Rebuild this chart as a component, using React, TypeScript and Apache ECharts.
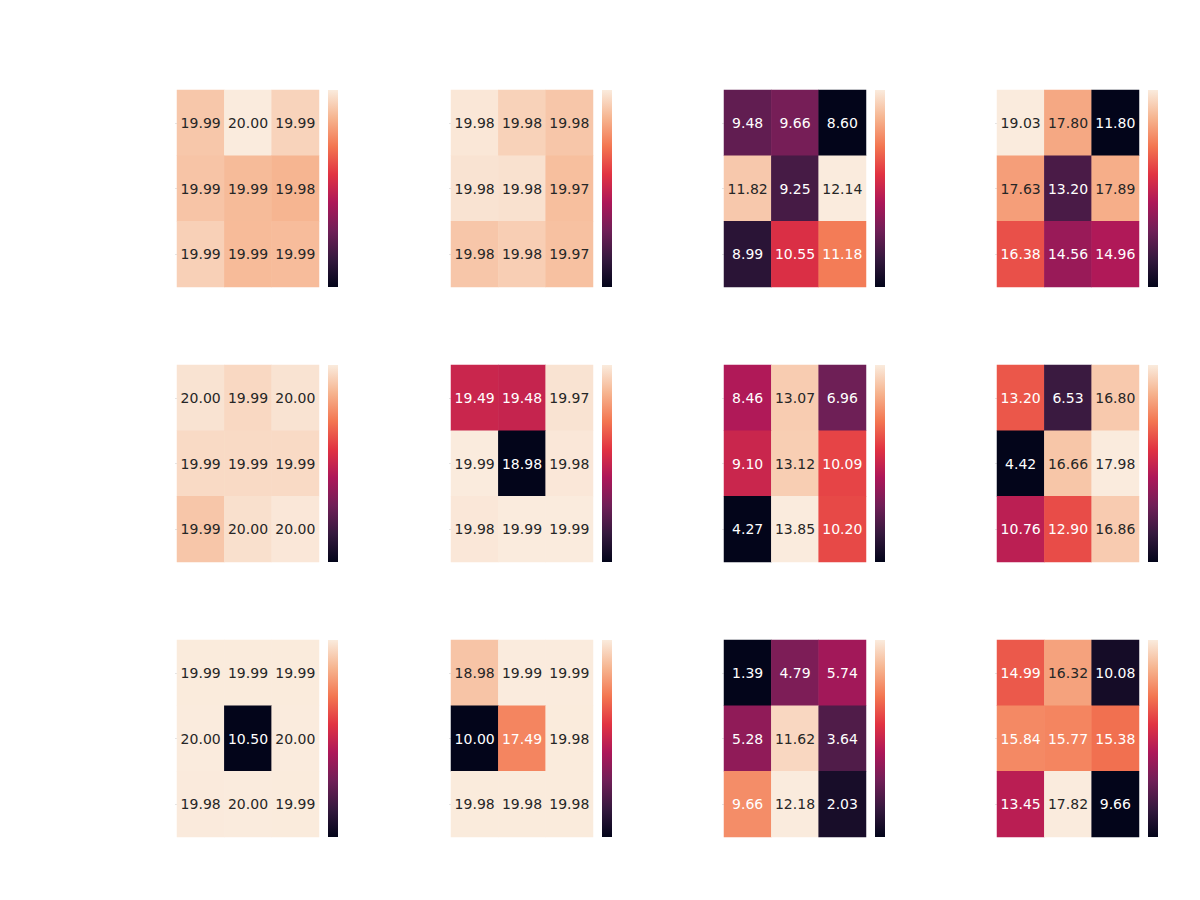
import React, { useEffect, useRef } from "react";
import * as echarts from "echarts";

// Seaborn "rocket" colormap stops (evenly spaced)
const ROCKET = ["#03051A", "#35193E", "#701F57", "#AD1759", "#E13342", "#F37651", "#F6B48F", "#FAEBDD"];

// Cell values (row-major, top row first); hidden precision
const H1 = [[19.9892, 20.0, 19.9928], [19.9885, 19.9856, 19.9839], [19.992, 19.9857, 19.986]];
const H2 = [[19.9831, 19.9783, 19.9757], [19.9823, 19.9818, 19.974], [19.9757, 19.9775, 19.9744]];
const H3 = [[9.48, 9.66, 8.6], [11.82, 9.25, 12.14], [8.99, 10.55, 11.18]];
const H4 = [[19.03, 17.8, 11.8], [17.63, 13.2, 17.89], [16.38, 14.56, 14.96]];
const H5 = [[19.9964, 19.994, 19.9964], [19.9944, 19.9944, 19.9944], [19.9903, 19.9956, 19.9972]];
const H6 = [[19.49, 19.48, 19.97], [19.99, 18.98, 19.98], [19.98, 19.99, 19.99]];
const H7 = [[8.46, 13.07, 6.96], [9.1, 13.12, 10.09], [4.27, 13.85, 10.2]];
const H8 = [[13.2, 6.53, 16.8], [4.42, 16.66, 17.98], [10.76, 12.9, 16.86]];
const H9 = [[19.99, 19.99, 19.99], [20.0, 10.5, 20.0], [19.98, 20.0, 19.99]];
const H10 = [[18.98, 19.99, 19.99], [10.0, 17.49, 19.98], [19.98, 19.98, 19.98]];
const H11 = [[1.39, 4.79, 5.74], [5.28, 11.62, 3.64], [9.66, 12.18, 2.03]];
const H12 = [[14.99, 16.32, 10.08], [15.84, 15.77, 15.38], [13.45, 17.82, 9.66]];

const HEATMAPS = [H1, H2, H3, H4, H5, H6, H7, H8, H9, H10, H11, H12];
// Colour-scale limits (null = data min/max)
const SCALE_MIN = [19.885, 19.897, null, null, 19.917, null, null, null, null, null, null, null];
const SCALE_MAX = [20.0, 19.984, null, null, 19.998, null, null, null, null, null, null, null];

const CATS = ["0", "1", "2"];

const COL_LEFT = [177, 451, 724, 997];
const ROW_TOP = [90, 365, 640];
const CELL_W = 142;
const CELL_H = 197;

function hexToRgb(h: string) {
  return [parseInt(h.slice(1, 3), 16), parseInt(h.slice(3, 5), 16), parseInt(h.slice(5, 7), 16)];
}

function rocketAt(t: number) {
  const tt = Math.max(0, Math.min(1, t));
  const s = tt * (ROCKET.length - 1);
  const i = Math.min(ROCKET.length - 2, Math.floor(s));
  const f = s - i;
  const a = hexToRgb(ROCKET[i]);
  const b = hexToRgb(ROCKET[i + 1]);
  return [0, 1, 2].map((k) => a[k] + (b[k] - a[k]) * f);
}

function luminance(rgb: number[]) {
  const lin = rgb.map((c) => {
    const v = c / 255;
    return v <= 0.03928 ? v / 12.92 : Math.pow((v + 0.055) / 1.055, 2.4);
  });
  return 0.2126 * lin[0] + 0.7152 * lin[1] + 0.0722 * lin[2];
}

export default function App() {
  const ref = useRef<HTMLDivElement>(null);

  useEffect(() => {
    if (!ref.current) return;
    const chart = echarts.init(ref.current, null, { renderer: "svg" });

    const grid: any[] = [];
    const xAxis: any[] = [];
    const yAxis: any[] = [];
    const series: any[] = [];
    const visualMap: any[] = [];
    const graphic: any[] = [];

    HEATMAPS.forEach((vals, idx) => {
      const r = Math.floor(idx / 4);
      const c = idx % 4;
      const flat = vals.flat();
      const mn = SCALE_MIN[idx] ?? Math.min(...flat);
      const mx = SCALE_MAX[idx] ?? Math.max(...flat);
      const left = COL_LEFT[c];
      const top = ROW_TOP[r];
      grid.push({ left, top, width: CELL_W, height: CELL_H, containLabel: false });
      xAxis.push({
        type: "category",
        gridIndex: idx,
        data: CATS,
        axisLine: { show: false },
        axisTick: { show: false },
        axisLabel: { show: false },
        splitLine: { show: false },
      });
      yAxis.push({
        type: "category",
        gridIndex: idx,
        data: CATS,
        inverse: true,
        axisLine: { show: false },
        axisTick: { show: true, length: 2, alignWithLabel: true, lineStyle: { color: "#e4e4e4", width: 1 } },
        axisLabel: { show: false },
        splitLine: { show: false },
      });
      const data: any[] = [];
      vals.forEach((row, ri) => {
        row.forEach((v, ci) => {
          const rgb = rocketAt((v - mn) / (mx - mn));
          const col = luminance(rgb) > 0.408 ? "#262626" : "#ffffff";
          data.push({ value: [ci, ri, v], label: { color: col } });
        });
      });
      series.push({
        type: "heatmap",
        xAxisIndex: idx,
        yAxisIndex: idx,
        data,
        label: {
          show: true,
          fontSize: 14,
          fontFamily: "DejaVu Sans",
          formatter: (p: any) => Number(p.value[2]).toFixed(2),
        },
        itemStyle: { borderWidth: 0 },
        emphasis: { disabled: true },
      });
      visualMap.push({
        type: "continuous",
        show: false,
        seriesIndex: idx,
        dimension: 2,
        min: mn,
        max: mx,
        inRange: { color: ROCKET },
      });
      graphic.push({
        type: "rect",
        left: left + 151,
        top,
        shape: { width: 10, height: CELL_H },
        style: {
          fill: {
            type: "linear",
            x: 0,
            y: 0,
            x2: 0,
            y2: 1,
            colorStops: ROCKET.slice()
              .reverse()
              .map((col, k) => ({ offset: k / (ROCKET.length - 1), color: col })),
          },
        },
        silent: true,
      });
    });

    chart.setOption({
      animation: false,
      backgroundColor: "#ffffff",
      grid,
      xAxis,
      yAxis,
      visualMap,
      series,
      graphic,
    });

    return () => chart.dispose();
  }, []);

  return (
    <div
      ref={ref}
      style={{ position: "absolute", left: 0, top: 0, width: 1200, height: 900 }}
    />
  );
}
